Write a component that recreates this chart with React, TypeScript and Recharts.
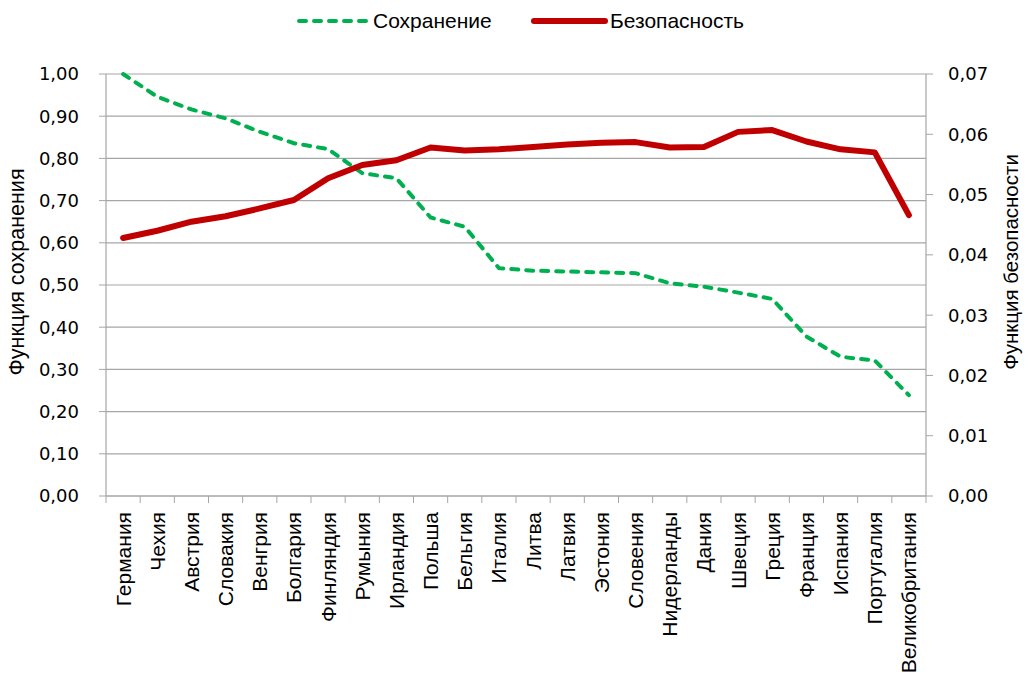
import { LineChart, Line, XAxis, YAxis, CartesianGrid } from "recharts";

const countries = [
  "Германия", "Чехия", "Австрия", "Словакия", "Венгрия", "Болгария",
  "Финляндия", "Румыния", "Ирландия", "Польша", "Бельгия", "Италия",
  "Литва", "Латвия", "Эстония", "Словения", "Нидерланды", "Дания",
  "Швеция", "Греция", "Франция", "Испания", "Португалия", "Великобритания",
];

const preservation = [
  1.0, 0.946, 0.916, 0.895, 0.863, 0.836, 0.822, 0.765, 0.753, 0.66, 0.638, 0.54,
  0.534, 0.532, 0.53, 0.528, 0.504, 0.496, 0.482, 0.467, 0.378, 0.33, 0.321, 0.239,
];

const safety = [
  0.0428, 0.044, 0.0455, 0.0464, 0.0477, 0.0491, 0.0527, 0.0549, 0.0557, 0.0578,
  0.0573, 0.0575, 0.0579, 0.0583, 0.0586, 0.0587, 0.0578, 0.0579, 0.0604, 0.0607,
  0.0588, 0.0575, 0.057, 0.0466,
];

const leftTicks = [0, 0.1, 0.2, 0.3, 0.4, 0.5, 0.6, 0.7, 0.8, 0.9, 1.0];
const rightTicks = [0, 0.01, 0.02, 0.03, 0.04, 0.05, 0.06, 0.07];

const data = countries.map((name, i) => ({
  name,
  save: preservation[i],
  safe: safety[i],
}));

const GRID = "#a6a6a6";
const GREEN = "#00b050";
const RED = "#c00000";
const PLOT_LEFT = 106;
const PLOT_RIGHT = 926;
const BAND = (PLOT_RIGHT - PLOT_LEFT) / countries.length;
const SANS = "Liberation Sans, Arial, sans-serif";

const fmt = (v: number) => v.toFixed(2).replace(".", ",");

function CountryTick(props: any) {
  const { x, y, payload, index } = props;
  const half = BAND / 2;
  return (
    <g>
      <line x1={x - half} y1={y} x2={x - half} y2={y + 7} stroke={GRID} />
      {index === countries.length - 1 && (
        <line x1={x + half} y1={y} x2={x + half} y2={y + 7} stroke={GRID} />
      )}
      <text
        transform={`translate(${x},${y + 16}) rotate(-90)`}
        textAnchor="end"
        dy="0.36em"
        fontFamily={SANS}
        fontSize={21}
        fill="#000"
      >
        {payload.value}
      </text>
    </g>
  );
}

export default function App() {
  return (
    <div style={{ position: "absolute", left: 0, top: 0, width: 1030, height: 680, background: "#fff" }}>
      <div style={{ position: "absolute", left: 0, top: 0, width: 1030, height: 44, fontFamily: SANS, fontSize: 21, color: "#000" }}>
        <svg width={80} height={12} style={{ position: "absolute", left: 294, top: 15 }}>
          <line x1={5} y1={6} x2={74} y2={6} stroke={GREEN} strokeWidth={4} strokeDasharray="7 8" strokeLinecap="round" />
        </svg>
        <span style={{ position: "absolute", left: 373, top: 8, lineHeight: "26px" }}>Сохранение</span>
        <svg width={80} height={12} style={{ position: "absolute", left: 529, top: 15 }}>
          <line x1={5} y1={6} x2={76} y2={6} stroke={RED} strokeWidth={6} strokeLinecap="round" />
        </svg>
        <span style={{ position: "absolute", left: 610, top: 8, lineHeight: "26px" }}>Безопасность</span>
      </div>
      <LineChart
        width={1030}
        height={680}
        data={data}
        margin={{ top: 74, right: 0, bottom: 0, left: 0 }}
      >
        <CartesianGrid yAxisId="left" vertical={false} stroke={GRID} strokeWidth={1.2} />
        <XAxis
          dataKey="name"
          interval={0}
          height={184}
          padding={{ left: BAND / 2, right: BAND / 2 }}
          tickLine={false}
          tickSize={0}
          tickMargin={0}
          axisLine={{ stroke: GRID, strokeWidth: 1.2 }}
          tick={<CountryTick />}
        />
        <YAxis
          yAxisId="left"
          width={106}
          domain={[0, 1]}
          ticks={leftTicks}
          tickFormatter={fmt}
          tickSize={7}
          tickMargin={20}
          axisLine={{ stroke: GRID, strokeWidth: 1.2 }}
          tickLine={{ stroke: GRID }}
          tick={{ fontFamily: "DejaVu Sans, sans-serif", fontSize: 18, fill: "#000" }}
          label={{
            value: "Функция сохранения",
            angle: -90,
            position: "insideLeft",
            dx: 11,
            dy: -13,
            style: { textAnchor: "middle", fontFamily: SANS, fontSize: 21.5, fill: "#000" },
          }}
        />
        <YAxis
          yAxisId="right"
          orientation="right"
          width={104}
          domain={[0, 0.07]}
          ticks={rightTicks}
          tickFormatter={fmt}
          tickSize={7}
          tickMargin={15}
          axisLine={{ stroke: GRID, strokeWidth: 1.2 }}
          tickLine={{ stroke: GRID }}
          tick={{ fontFamily: "DejaVu Sans, sans-serif", fontSize: 18, fill: "#000" }}
          label={{
            value: "Функция безопасности",
            angle: -90,
            position: "insideRight",
            dx: -14,
            dy: -23,
            style: { textAnchor: "middle", fontFamily: SANS, fontSize: 20.5, fill: "#000" },
          }}
        />
        <Line
          yAxisId="left"
          type="linear"
          dataKey="save"
          stroke={GREEN}
          strokeWidth={4}
          strokeDasharray="7 8"
          strokeLinecap="round"
          dot={false}
          activeDot={false}
          isAnimationActive={false}
        />
        <Line
          yAxisId="right"
          type="linear"
          dataKey="safe"
          stroke={RED}
          strokeWidth={6}
          strokeLinecap="round"
          strokeLinejoin="round"
          dot={false}
          activeDot={false}
          isAnimationActive={false}
        />
      </LineChart>
    </div>
  );
}
